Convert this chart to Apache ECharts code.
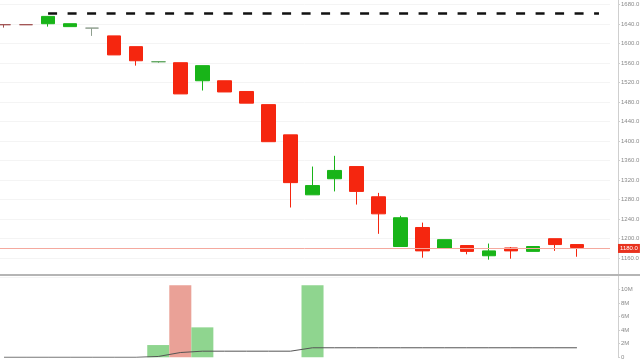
<!DOCTYPE html>
<html>
<head>
<meta charset="utf-8">
<script src="https://cdn.jsdelivr.net/npm/echarts@6/dist/echarts.min.js"></script>
<style>html,body{margin:0;padding:0;background:#fff}#c{width:640px;height:360px}</style>
</head>
<body>
<div id="c"></div>
<script>
// categories (28 slots, last one empty)
var categories = ['1','2','3','4','5','6','7','8','9','10','11','12','13','14','15','16','17','18','19','20','21','22','23','24','25','26','27','28'];
// OHLC
var opens  = [1639,1639,1641,1635,1632,1616,1594,1563,1561,1524,1524,1502,1475,1413,1290,1323,1348,1286,1184,1223,1180,1186,1165,1181,1174,1200,1188];
var closes = [1639,1639,1656,1641,1632,1577,1565,1563,1497,1555,1501,1478,1399,1315,1309,1340,1297,1251,1243,1175,1198,1174,1175,1175,1184,1188,1182];
var lows   = [1633,1639,1635,1635,1616,1577,1555,1561,1497,1504,1501,1478,1399,1264,1290,1297,1270,1210,1184,1161,1180,1168,1157,1159,1174,1175,1163];
var highs  = [1640,1639,1656,1641,1632,1616,1594,1564,1561,1555,1524,1502,1475,1413,1348,1370,1348,1294,1247,1233,1198,1186,1190,1183,1184,1200,1188];
// volume (millions) and its average line
var volumes = [0,0,0,0,0,0,0,1.8,10.6,4.4,0,0,0,0,10.6,0,0,0,0,0,0,0,0,0,0,0,0];
var volUp   = [0,0,0,0,0,0,0,1,0,1,0,0,0,0,1,0,0,0,0,0,0,0,0,0,0,0,0];
var volAvg  = [0,0,0,0,0,0,0,0.12,0.7,0.9,0.9,0.9,0.9,0.9,1.4,1.4,1.4,1.4,1.4,1.4,1.4,1.4,1.4,1.4,1.4,1.4,1.4];
var lastPrice = 1180;
var resistance = 1662;
var dojiColors = {0:'#a05050',1:'#a05050',4:'#8f9f8f',7:'#5fa55f'};

var GREEN = '#18b418', RED = '#f5260f';
var candleData = opens.map(function(o, i){
  var item = {value: [o, closes[i], lows[i], highs[i]]};
  if (dojiColors[i]) {
    var c = dojiColors[i];
    item.itemStyle = {color: c, color0: c, borderColor: c, borderColor0: c};
  }
  return item;
});
var volData = volumes.map(function(v, i){
  return {value: v, itemStyle: {color: volUp[i] ? '#8fd58f' : '#eaa197'}};
});

var chart = echarts.init(document.getElementById('c'), null, {renderer: 'canvas'});
chart.setOption({
  animation: false,
  backgroundColor: '#fff',
  grid: [
    {left: -7, right: 30, top: -14.8, height: 292.5, outerBoundsMode: 'none', containLabel: false},
    {left: -7, right: 30, top: 277, bottom: 2.7, outerBoundsMode: 'none', containLabel: false}
  ],
  xAxis: [
    {type: 'category', data: categories, gridIndex: 0, boundaryGap: true,
     axisLine: {show: false}, axisTick: {show: false}, axisLabel: {show: false}, splitLine: {show: false}},
    {type: 'category', data: categories, gridIndex: 1, boundaryGap: true,
     axisLine: {show: false}, axisTick: {show: false}, axisLabel: {show: false}, splitLine: {show: false}}
  ],
  yAxis: [
    {type: 'value', gridIndex: 0, position: 'right', offset: 8, min: 1120, max: 1720, interval: 40,
     axisLine: {show: true, lineStyle: {color: '#cfcfcf'}},
     axisTick: {show: true, length: 2, lineStyle: {color: '#cfcfcf'}},
     axisLabel: {fontSize: 6, color: '#8a8a8a', margin: 3, showMinLabel: false, showMaxLabel: false,
       formatter: function(v){ return v.toFixed(1); }},
     splitLine: {show: true, lineStyle: {color: '#f4f4f4'}}},
    {type: 'value', gridIndex: 1, position: 'right', offset: 8, min: 0, max: 11.8, interval: 2,
     axisLine: {show: true, lineStyle: {color: '#cfcfcf'}},
     axisTick: {show: true, length: 2, lineStyle: {color: '#cfcfcf'}},
     axisLabel: {fontSize: 6, color: '#8a8a8a', margin: 3, showMaxLabel: false,
       formatter: function(v){ return v === 0 ? '0' : v + 'M'; }},
     splitLine: {show: false}}
  ],
  graphic: [
    {type: 'line', shape: {x1: 0, y1: 275, x2: 640, y2: 275}, style: {stroke: '#b5b5b5', lineWidth: 2}, z: 10}
  ],
  series: [
    {type: 'candlestick', xAxisIndex: 0, yAxisIndex: 0, data: candleData, barWidth: 14,
     itemStyle: {color: GREEN, color0: RED, borderColor: GREEN, borderColor0: RED, borderWidth: 1},
     markLine: {
       silent: true, symbol: ['none', 'none'],
       data: [
         [{coord: [categories[2], resistance]}, {coord: [categories[27], resistance]}],
         {yAxis: lastPrice, lineStyle: {color: '#f5a99f', width: 1, type: 'solid'},
          label: {show: true, position: 'end', distance: 8, formatter: lastPrice.toFixed(1),
            color: '#fff', backgroundColor: '#e8321e', fontSize: 6, padding: [2, 2, 1, 2]}}
       ],
       lineStyle: {color: '#111', width: 2.7, type: [9, 10.5]},
       label: {show: false}
     }
    },
    {type: 'bar', xAxisIndex: 1, yAxisIndex: 1, data: volData, barCategoryGap: '0%'},
    {type: 'line', xAxisIndex: 1, yAxisIndex: 1, data: volAvg, symbol: 'none',
     lineStyle: {color: '#555', width: 1}, z: 5}
  ]
});
</script>
</body>
</html>
